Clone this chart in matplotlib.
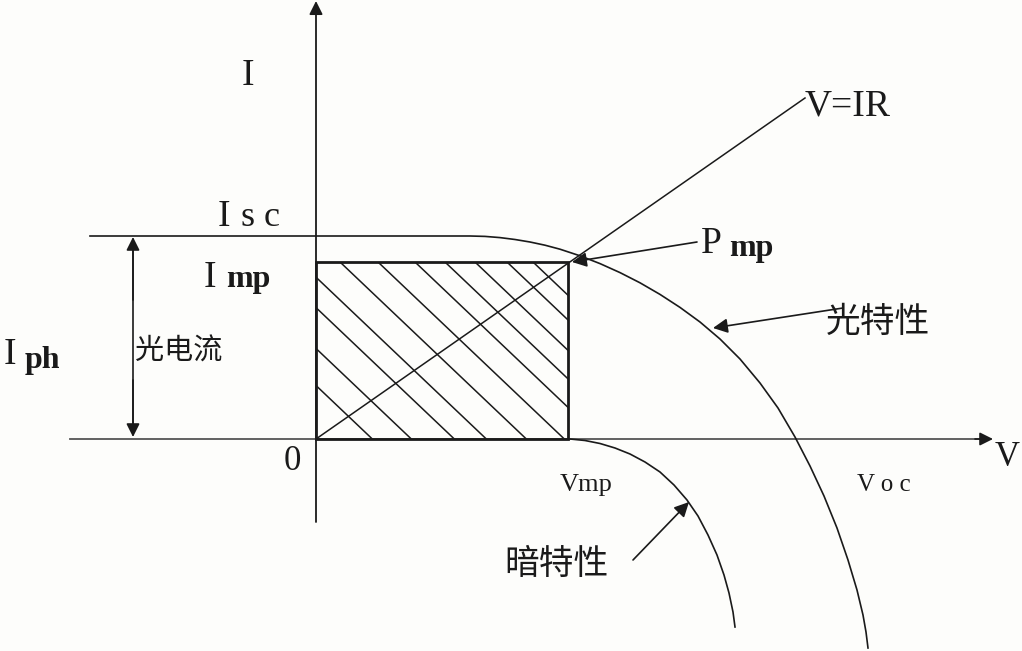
import matplotlib.pyplot as plt
from matplotlib.patches import Rectangle

# 光特性 curve (V, I in picture units, I axis pointing down)
light_v = [90, 470, 485, 500, 515, 530, 545, 560, 580, 600, 620, 640, 660, 680,
           700, 720, 740, 760, 778, 795, 810, 824, 837, 848, 857, 863, 866, 868]
light_i = [236, 236, 236.4, 237.6, 239.5, 242, 245.2, 249.2, 255.8, 263.6,
           272.6, 282.8, 294.4, 307.4, 322, 339, 359, 383, 408, 437, 466, 496,
           528, 560, 590, 615, 632, 648]
# 暗特性 curve
dark_v = [570, 585, 600, 615, 630, 645, 660, 674, 687, 698, 708, 717, 724, 729,
          733, 735]
dark_i = [439, 440.5, 443.5, 448, 454, 462, 472, 485, 500, 516, 535, 555, 575,
          593, 612, 627]
# hatch lines: where each one meets the top edge of the power rectangle
hatch_x0 = [186, 225, 268, 300, 340, 378, 415, 445, 475, 507, 533]

origin = (316, 439)
pmp = (568, 262)
isc = 236

ink = '#1a1a1a'
serif = ['Liberation Serif', 'DejaVu Serif']
cjk = ['Noto Sans CJK SC', 'DejaVu Sans']

fig = plt.figure(figsize=(10.22, 6.51), dpi=100)
fig.patch.set_facecolor('#fdfdfb')
ax = fig.add_axes([0, 0, 1, 1])
ax.set_xlim(0, 1022)
ax.set_ylim(651, 0)
ax.axis('off')


def arrow(p_from, p_to, color=ink, lw=1.2, ms=20):
    ax.annotate('', xy=p_to, xytext=p_from,
                arrowprops=dict(arrowstyle='-|>', color=color, lw=lw,
                                mutation_scale=ms, shrinkA=0, shrinkB=0))


# axes
ax.plot([70, 980], [origin[1], origin[1]], color='#555555', lw=1.3)
arrow((975, origin[1]), (993, origin[1]))
arrow((origin[0], 522), (origin[0], 1), lw=1.3)

# curves
ax.plot(light_v, light_i, color=ink, lw=1.2, solid_joinstyle='round')
ax.plot(dark_v, dark_i, color=ink, lw=1.2, solid_joinstyle='round')

# power rectangle with hatching
rect = Rectangle((origin[0], pmp[1]), pmp[0] - origin[0], origin[1] - pmp[1],
                 fill=False, ec=ink, lw=2.0, zorder=3)
ax.add_patch(rect)
for x0 in hatch_x0:
    ln, = ax.plot([x0, x0 + 400], [pmp[1], pmp[1] + 0.95 * 400], color=ink, lw=1.1)
    ln.set_clip_path(rect)

# V=IR load line
ax.plot([origin[0], 805], [origin[1], 98], color=ink, lw=1.1)

# Iph double arrow
arrow((133, 300), (133, isc + 1))
arrow((133, 380), (133, origin[1] - 2))
ax.plot([133, 133], [isc + 10, origin[1] - 10], color=ink, lw=1.2)

# label arrows
arrow((697, 242), (572, 262), ms=22)
arrow((843, 308), (713, 328), ms=22)
arrow((633, 560), (689, 502), ms=22)


# text
def t(x, y, s, size, fam=serif, weight='normal'):
    ax.text(x, y, s, fontsize=size, family=fam, weight=weight, color=ink,
            ha='left', va='baseline')


t(242, 85, 'I', 27)
t(218, 226, 'I', 27)
t(241, 226, 's c', 26)
t(204, 287, 'I', 27)
t(226, 287, 'mp', 23, weight='bold')
t(4, 364, 'I', 27)
t(25, 368, 'ph', 23, weight='bold')
t(701, 253, 'P', 27)
t(729, 256, 'mp', 23, weight='bold')
t(805, 115, 'V=IR', 27)
t(995, 466, 'V', 25)
t(284, 470, '0', 25)
t(560, 491, 'Vmp', 19)
t(857, 491, 'V o c', 18)
t(135, 360, '光电流', 21, fam=cjk)
t(826, 332, '光特性', 25, fam=cjk)
t(504, 574, '暗特性', 25, fam=cjk)

fig.savefig('out.png', dpi=100, facecolor=fig.get_facecolor())
